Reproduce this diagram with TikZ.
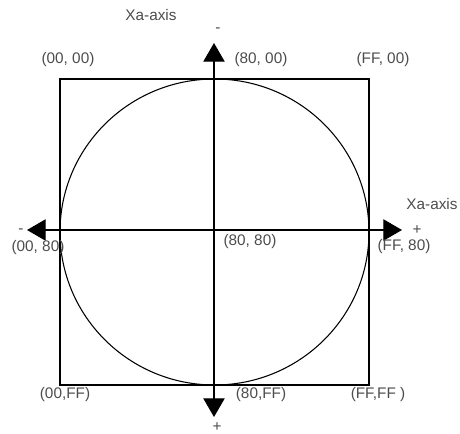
\documentclass[tikz,border=0pt]{standalone}
\usepackage{fontspec}
\setmainfont{Liberation Sans}
\usetikzlibrary{arrows.meta}
\tikzset{
    lbl/.style={inner sep=0pt, text=black!70, font=\fontsize{11.5}{13}\selectfont},
    axis/.style={{Triangle[length=14pt, width=16pt]}-{Triangle[length=14pt, width=16pt]}, line width=0.8pt},
    frame/.style={draw, line width=0.8pt},
}

\begin{document}
\begin{tikzpicture}[x=0.75pt, y=-0.75pt]
\useasboundingbox (0,0) rectangle (460,434);

% Square and circle
\draw[frame] (60,79) rectangle (369,385);
\draw[frame] (214.5,232) ellipse (154.5 and 153);

% Axes
\coordinate (top) at (214,43);
\coordinate (bot) at (214,417);
\coordinate (lft) at (27,230);
\coordinate (rgt) at (402,230);
\draw[axis] (top) -- (bot);
\draw[axis] (lft) -- (rgt);

% Axis labels
\node[lbl] (ytitle) at (151,15) {Xa-axis};
\node[lbl] (ymin) at (218,30) {-};
\node[lbl] (yplus) at (217,427) {+};
\node[lbl] (xtitle) at (432,204) {Xa-axis};
\node[lbl] (xplus) at (417,230) {+};
\node[lbl] (xmin) at (21,231) {-};

% Corner labels
\node[lbl] (p00) at (68,60) {(00, 00)};
\node[lbl] (p80) at (261,60) {(80, 00)};
\node[lbl] (pff) at (383,60) {(FF, 00)};
\node[lbl] (q00) at (38,248) {(00, 80)};
\node[lbl] (q80) at (250,242) {(80, 80)};
\node[lbl] (qff) at (404,247) {(FF, 80)};
\node[lbl] (r00) at (65,395) {(00,FF)};
\node[lbl] (r80) at (261,395) {(80,FF)};
\node[lbl] (rff) at (378,395) {(FF,FF )};

\end{tikzpicture}
\end{document}
